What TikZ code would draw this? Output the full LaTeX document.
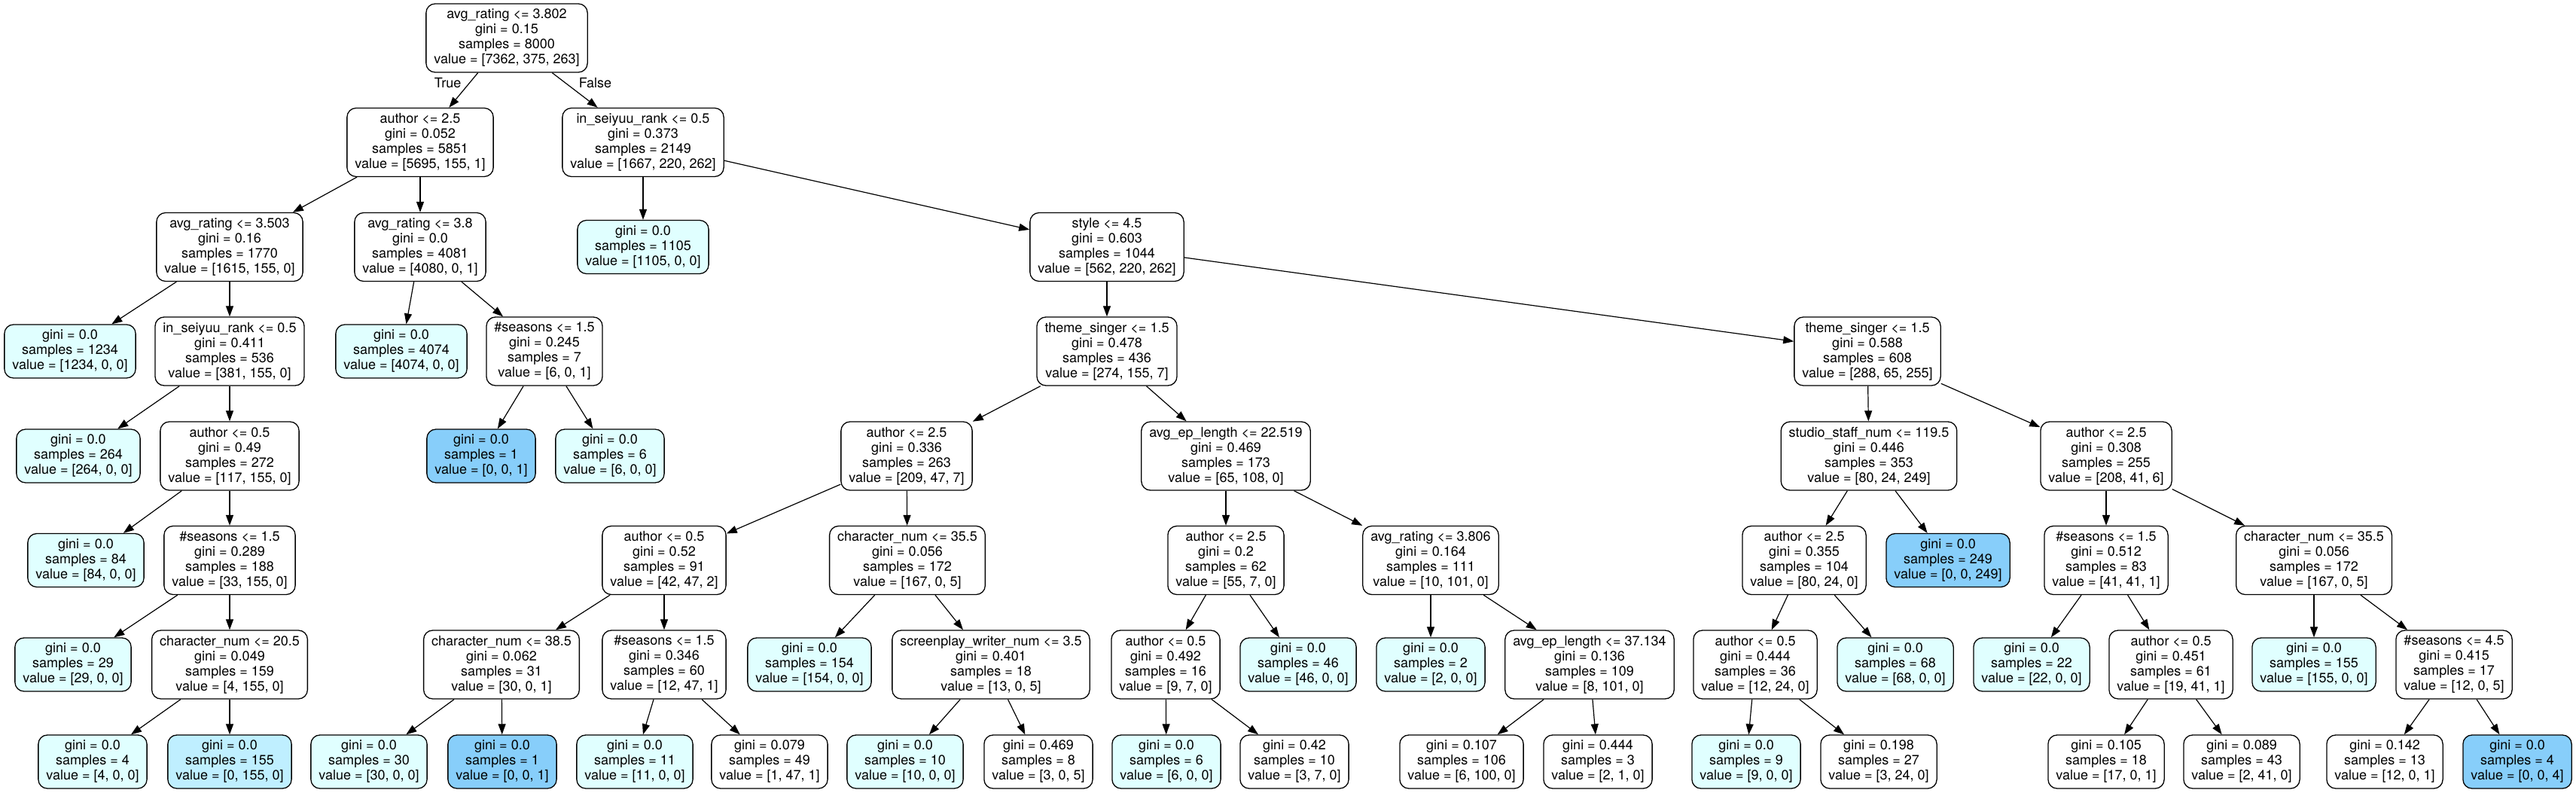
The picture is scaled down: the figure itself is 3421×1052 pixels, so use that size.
\documentclass[tikz,border=0pt]{standalone}
\usepackage{fontspec}
\setmainfont{TeX Gyre Heros}
\usetikzlibrary{arrows.meta}
\definecolor{classa}{HTML}{E0FFFF}
\definecolor{classb}{HTML}{BFEFFF}
\definecolor{classc}{HTML}{87CEFA}

\begin{document}
\begin{tikzpicture}[x=1pt, y=-1pt, >={Triangle[length=14pt,width=10pt]},
	every node/.style={font=\fontsize{18}{20}\selectfont},
	box/.style={draw, rounded corners=12pt, line width=1.3pt, align=center, inner xsep=10.5pt, inner ysep=0pt},
	split/.style={box, minimum height=91pt},
	leaf/.style={box, minimum height=71pt},
	pa/.style={leaf, fill=classa},
	pb/.style={leaf, fill=classb},
	pc/.style={leaf, fill=classc},
	edge/.style={->, line width=1.2pt},
	edgelabel/.style={inner sep=0pt}]
	
	\useasboundingbox (0,0) rectangle (3421,1052);
	
	% rank 0 and 1
	\node[split] (n0) at (673,50.5) {avg\_rating <= 3.802\\gini = 0.15\\samples = 8000\\value = [7362, 375, 263]};
	\node[split] (n1) at (558,189) {author <= 2.5\\gini = 0.052\\samples = 5851\\value = [5695, 155, 1]};
	\node[split] (n18) at (854,189) {in\_seiyuu\_rank <= 0.5\\gini = 0.373\\samples = 2149\\value = [1667, 220, 262]};
	
	% rank 2
	\node[split] (n2) at (305,328) {avg\_rating <= 3.503\\gini = 0.16\\samples = 1770\\value = [1615, 155, 0]};
	\node[split] (n13) at (558,328) {avg\_rating <= 3.8\\gini = 0.0\\samples = 4081\\value = [4080, 0, 1]};
	\node[pa] (n19) at (854,328) {gini = 0.0\\samples = 1105\\value = [1105, 0, 0]};
	\node[split] (n20) at (1470,328) {style <= 4.5\\gini = 0.603\\samples = 1044\\value = [562, 220, 262]};
	
	% rank 3
	\node[pa] (n3) at (93,466.5) {gini = 0.0\\samples = 1234\\value = [1234, 0, 0]};
	\node[split] (n4) at (305,466.5) {in\_seiyuu\_rank <= 0.5\\gini = 0.411\\samples = 536\\value = [381, 155, 0]};
	\node[pa] (n14) at (533,466.5) {gini = 0.0\\samples = 4074\\value = [4074, 0, 0]};
	\node[split] (n15) at (723,466.5) {\#seasons <= 1.5\\gini = 0.245\\samples = 7\\value = [6, 0, 1]};
	\node[split] (n21) at (1470,466.5) {theme\_singer <= 1.5\\gini = 0.478\\samples = 436\\value = [274, 155, 7]};
	\node[split] (n46) at (2480,466.5) {theme\_singer <= 1.5\\gini = 0.588\\samples = 608\\value = [288, 65, 255]};
	
	% rank 4
	\node[pa] (n5) at (104,605.5) {gini = 0.0\\samples = 264\\value = [264, 0, 0]};
	\node[split] (n6) at (305,605.5) {author <= 0.5\\gini = 0.49\\samples = 272\\value = [117, 155, 0]};
	\node[pc] (n16) at (639,605.5) {gini = 0.0\\samples = 1\\value = [0, 0, 1]};
	\node[pa] (n17) at (810,605.5) {gini = 0.0\\samples = 6\\value = [6, 0, 0]};
	\node[split] (n22) at (1204,605.5) {author <= 2.5\\gini = 0.336\\samples = 263\\value = [209, 47, 7]};
	\node[split] (n35) at (1628,605.5) {avg\_ep\_length <= 22.519\\gini = 0.469\\samples = 173\\value = [65, 108, 0]};
	\node[split] (n47) at (2482,605.5) {studio\_staff\_num <= 119.5\\gini = 0.446\\samples = 353\\value = [80, 24, 249]};
	\node[split] (n54) at (2797,605.5) {author <= 2.5\\gini = 0.308\\samples = 255\\value = [208, 41, 6]};
	
	% rank 5
	\node[pa] (n7) at (114,744) {gini = 0.0\\samples = 84\\value = [84, 0, 0]};
	\node[split] (n8) at (305,744) {\#seasons <= 1.5\\gini = 0.289\\samples = 188\\value = [33, 155, 0]};
	\node[split] (n23) at (882,744) {author <= 0.5\\gini = 0.52\\samples = 91\\value = [42, 47, 2]};
	\node[split] (n30) at (1205,744) {character\_num <= 35.5\\gini = 0.056\\samples = 172\\value = [167, 0, 5]};
	\node[split] (n36) at (1628,744) {author <= 2.5\\gini = 0.2\\samples = 62\\value = [55, 7, 0]};
	\node[split] (n41) at (1900,744) {avg\_rating <= 3.806\\gini = 0.164\\samples = 111\\value = [10, 101, 0]};
	\node[split] (n48) at (2396,744) {author <= 2.5\\gini = 0.355\\samples = 104\\value = [80, 24, 0]};
	\node[pc] (n53) at (2587,744) {gini = 0.0\\samples = 249\\value = [0, 0, 249]};
	\node[split] (n55) at (2797,744) {\#seasons <= 1.5\\gini = 0.512\\samples = 83\\value = [41, 41, 1]};
	\node[split] (n60) at (3073,744) {character\_num <= 35.5\\gini = 0.056\\samples = 172\\value = [167, 0, 5]};
	
	% rank 6
	\node[pa] (n9) at (97,882.5) {gini = 0.0\\samples = 29\\value = [29, 0, 0]};
	\node[split] (n10) at (305,882.5) {character\_num <= 20.5\\gini = 0.049\\samples = 159\\value = [4, 155, 0]};
	\node[split] (n24) at (666,882.5) {character\_num <= 38.5\\gini = 0.062\\samples = 31\\value = [30, 0, 1]};
	\node[split] (n27) at (882,882.5) {\#seasons <= 1.5\\gini = 0.346\\samples = 60\\value = [12, 47, 1]};
	\node[pa] (n31) at (1075,882.5) {gini = 0.0\\samples = 154\\value = [154, 0, 0]};
	\node[split] (n32) at (1316,882.5) {screenplay\_writer\_num <= 3.5\\gini = 0.401\\samples = 18\\value = [13, 0, 5]};
	\node[split] (n37) at (1548,882.5) {author <= 0.5\\gini = 0.492\\samples = 16\\value = [9, 7, 0]};
	\node[pa] (n40) at (1724,882.5) {gini = 0.0\\samples = 46\\value = [46, 0, 0]};
	\node[pa] (n42) at (1900,882.5) {gini = 0.0\\samples = 2\\value = [2, 0, 0]};
	\node[split] (n43) at (2111,882.5) {avg\_ep\_length <= 37.134\\gini = 0.136\\samples = 109\\value = [8, 101, 0]};
	\node[split] (n49) at (2331,882.5) {author <= 0.5\\gini = 0.444\\samples = 36\\value = [12, 24, 0]};
	\node[pa] (n52) at (2517,882.5) {gini = 0.0\\samples = 68\\value = [68, 0, 0]};
	\node[pa] (n56) at (2698,882.5) {gini = 0.0\\samples = 22\\value = [22, 0, 0]};
	\node[split] (n57) at (2883,882.5) {author <= 0.5\\gini = 0.451\\samples = 61\\value = [19, 41, 1]};
	\node[pa] (n61) at (3073,882.5) {gini = 0.0\\samples = 155\\value = [155, 0, 0]};
	\node[split] (n62) at (3259,882.5) {\#seasons <= 4.5\\gini = 0.415\\samples = 17\\value = [12, 0, 5]};
	
	% rank 7
	\node[pa] (n11) at (123,1011.5) {gini = 0.0\\samples = 4\\value = [4, 0, 0]};
	\node[pb] (n12) at (305,1011.5) {gini = 0.0\\samples = 155\\value = [0, 155, 0]};
	\node[pa] (n25) at (490,1011.5) {gini = 0.0\\samples = 30\\value = [30, 0, 0]};
	\node[pc] (n26) at (667,1011.5) {gini = 0.0\\samples = 1\\value = [0, 0, 1]};
	\node[pa] (n28) at (843,1011.5) {gini = 0.0\\samples = 11\\value = [11, 0, 0]};
	\node[leaf] (n29) at (1022,1011.5) {gini = 0.079\\samples = 49\\value = [1, 47, 1]};
	\node[pa] (n33) at (1202,1011.5) {gini = 0.0\\samples = 10\\value = [10, 0, 0]};
	\node[leaf] (n34) at (1379,1011.5) {gini = 0.469\\samples = 8\\value = [3, 0, 5]};
	\node[pa] (n38) at (1549,1011.5) {gini = 0.0\\samples = 6\\value = [6, 0, 0]};
	\node[leaf] (n39) at (1719,1011.5) {gini = 0.42\\samples = 10\\value = [3, 7, 0]};
	\node[leaf] (n44) at (1941,1011.5) {gini = 0.107\\samples = 106\\value = [6, 100, 0]};
	\node[leaf] (n45) at (2122,1011.5) {gini = 0.444\\samples = 3\\value = [2, 1, 0]};
	\node[pa] (n50) at (2319,1011.5) {gini = 0.0\\samples = 9\\value = [9, 0, 0]};
	\node[leaf] (n51) at (2495,1011.5) {gini = 0.198\\samples = 27\\value = [3, 24, 0]};
	\node[leaf] (n58) at (2797,1011.5) {gini = 0.105\\samples = 18\\value = [17, 0, 1]};
	\node[leaf] (n59) at (2977,1011.5) {gini = 0.089\\samples = 43\\value = [2, 41, 0]};
	\node[leaf] (n63) at (3167,1011.5) {gini = 0.142\\samples = 13\\value = [12, 0, 1]};
	\node[pc] (n64) at (3343,1011.5) {gini = 0.0\\samples = 4\\value = [0, 0, 4]};
	
	% edges
	\draw[edge] (n0) -- node[edgelabel, pos=0.28, left=11pt]{True} (n1);
	\draw[edge] (n0) -- node[edgelabel, pos=0.28, right=18pt]{False} (n18);
	\draw[edge] (n1) -- (n2); \draw[edge] (n1) -- (n13);
	\draw[edge] (n2) -- (n3); \draw[edge] (n2) -- (n4);
	\draw[edge] (n4) -- (n5); \draw[edge] (n4) -- (n6);
	\draw[edge] (n6) -- (n7); \draw[edge] (n6) -- (n8);
	\draw[edge] (n8) -- (n9); \draw[edge] (n8) -- (n10);
	\draw[edge] (n10) -- (n11); \draw[edge] (n10) -- (n12);
	\draw[edge] (n13) -- (n14); \draw[edge] (n13) -- (n15);
	\draw[edge] (n15) -- (n16); \draw[edge] (n15) -- (n17);
	\draw[edge] (n18) -- (n19); \draw[edge] (n18) -- (n20);
	\draw[edge] (n20) -- (n21); \draw[edge] (n20) -- (n46);
	\draw[edge] (n21) -- (n22); \draw[edge] (n21) -- (n35);
	\draw[edge] (n22) -- (n23); \draw[edge] (n22) -- (n30);
	\draw[edge] (n23) -- (n24); \draw[edge] (n23) -- (n27);
	\draw[edge] (n24) -- (n25); \draw[edge] (n24) -- (n26);
	\draw[edge] (n27) -- (n28); \draw[edge] (n27) -- (n29);
	\draw[edge] (n30) -- (n31); \draw[edge] (n30) -- (n32);
	\draw[edge] (n32) -- (n33); \draw[edge] (n32) -- (n34);
	\draw[edge] (n35) -- (n36); \draw[edge] (n35) -- (n41);
	\draw[edge] (n36) -- (n37); \draw[edge] (n36) -- (n40);
	\draw[edge] (n37) -- (n38); \draw[edge] (n37) -- (n39);
	\draw[edge] (n41) -- (n42); \draw[edge] (n41) -- (n43);
	\draw[edge] (n43) -- (n44); \draw[edge] (n43) -- (n45);
	\draw[edge] (n46) -- (n47); \draw[edge] (n46) -- (n54);
	\draw[edge] (n47) -- (n48); \draw[edge] (n47) -- (n53);
	\draw[edge] (n48) -- (n49); \draw[edge] (n48) -- (n52);
	\draw[edge] (n49) -- (n50); \draw[edge] (n49) -- (n51);
	\draw[edge] (n54) -- (n55); \draw[edge] (n54) -- (n60);
	\draw[edge] (n55) -- (n56); \draw[edge] (n55) -- (n57);
	\draw[edge] (n57) -- (n58); \draw[edge] (n57) -- (n59);
	\draw[edge] (n60) -- (n61); \draw[edge] (n60) -- (n62);
	\draw[edge] (n62) -- (n63); \draw[edge] (n62) -- (n64);
\end{tikzpicture}
\end{document}
